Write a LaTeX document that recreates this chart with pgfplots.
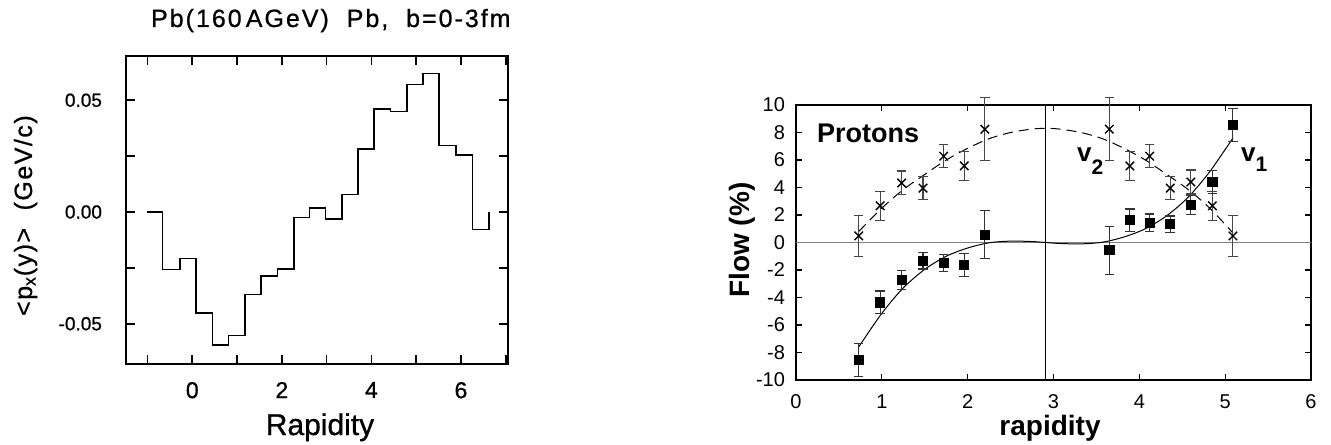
\documentclass[border=0pt]{standalone}
\usepackage{fontspec}
\setmainfont{Liberation Sans}
\newfontfamily\scanfont[FakeBold=0.8]{Liberation Sans}
\usepackage{pgfplots}
\pgfplotsset{compat=1.18}
\begin{document}
\begin{tikzpicture}
\path[use as bounding box] (0,0) rectangle (665.5pt,-222pt);
% ---------------- left panel ----------------
\begin{axis}[
  at={(63pt,-182pt)}, anchor=south west, scale only axis,
  width=191pt, height=154pt,
  xmin=-1.48, xmax=7.05, ymin=-0.0680, ymax=0.0698,
  axis line style={line width=1.1pt},
  xtick={0,2,4,6}, xticklabels={0,2,4,6},
  minor xtick={-1,1,3,5,7},
  ytick={-0.05,0,0.05}, yticklabels={-0.05,0.00,0.05},
  minor ytick={-0.025,0.025},
  scaled y ticks=false,
  tick align=inside, major tick length=4.5pt, minor tick length=4.5pt,
  every tick/.style={line width=0.8pt, black},
  xticklabel style={font=\scanfont\fontsize{11.5}{13}\selectfont, yshift=-5.5pt},
  yticklabel style={font=\scanfont\fontsize{9.5}{11}\selectfont, xshift=-8.5pt},
]
\addplot[const plot mark left, black, line width=0.75pt] coordinates {
(-1.00,0) (-0.66,-0.0257) (-0.27,-0.0209) (0.08,-0.0452) (0.45,-0.0595)
(0.81,-0.0553) (1.18,-0.0369) (1.54,-0.0287) (1.90,-0.0256) (2.27,-0.0025)
(2.62,0.0017) (2.98,-0.0032) (3.34,0.0078) (3.70,0.0282) (4.06,0.0462)
(4.43,0.0450) (4.79,0.0570) (5.15,0.0620) (5.51,0.0298) (5.89,0.0255)
(6.26,-0.0078) (6.63,0)};
\end{axis}
\node[anchor=base west, font=\scanfont\fontsize{12.5}{14}\selectfont\addfontfeatures{LetterSpace=8}] at (72pt,-13.5pt)
  {Pb(160\,AGeV)\ \ Pb,\ \ b=0-3fm};
\node[anchor=base, font=\scanfont\fontsize{15}{17}\selectfont] at (160pt,-217.5pt) {Rapidity};
\node[rotate=90, anchor=base, font=\scanfont\fontsize{12.5}{14}\selectfont\addfontfeatures{LetterSpace=6}]
  at (16pt,-107.8pt) {<p\textsubscript{x}(y)>\hspace{0.7em}(GeV/c)};
% ---------------- right panel ----------------
\begin{axis}[
  at={(398pt,-190pt)}, anchor=south west, scale only axis,
  width=257.5pt, height=137.5pt,
  xmin=0, xmax=6, ymin=-10, ymax=10,
  clip=false,
  axis line style={line width=0.7pt},
  xtick={0,1,2,3,4,5,6}, xticklabels={0,1,2,3,4,5,6},
  ytick={-10,-8,-6,-4,-2,0,2,4,6,8,10},
  yticklabels={-10,-8,-6,-4,-2,0,2,4,6,8,10},
  tick align=inside, major tick length=3pt,
  every tick/.style={line width=0.6pt, black},
  xticklabel style={font=\fontsize{10}{11}\selectfont, yshift=-3.8pt},
  yticklabel style={font=\fontsize{10}{11}\selectfont, xshift=-2pt},
]
\addplot[gray, line width=0.6pt] coordinates {(0,0) (6,0)};
\addplot[black, line width=0.6pt] coordinates {(2.91,-10) (2.91,10)};
% v2 fit (dashed)
\addplot[black, line width=0.5pt, dash pattern=on 5pt off 3pt, smooth] coordinates {
(0.73,0.80) (1.00,2.50) (1.25,3.85) (1.50,4.95) (1.75,6.00) (2.00,6.85)
(2.25,7.55) (2.50,8.00) (2.75,8.25) (2.91,8.30) (3.07,8.25) (3.32,8.00)
(3.57,7.55) (3.82,6.85) (4.07,6.00) (4.32,4.95) (4.57,3.85) (4.82,2.50) (5.09,0.70)};
% v1 fit (solid)
\addplot[black, line width=0.5pt, smooth] coordinates {
(0.73,-7.60) (1.00,-5.15) (1.25,-3.30) (1.50,-1.95) (1.75,-1.00) (2.00,-0.40)
(2.25,-0.02) (2.50,0.10) (2.75,0.07) (2.91,0) (3.07,-0.07) (3.32,-0.10)
(3.57,0.02) (3.82,0.40) (4.07,1.00) (4.32,1.95) (4.57,3.30) (4.82,5.15) (5.09,7.60)};
% v2 data (crosses)
\addplot[only marks, black, mark=x, mark size=3pt, mark options={line width=0.7pt},
  error bars/.cd, y dir=both, y explicit,
  error bar style={gray!55!black, line width=0.55pt},
  error mark options={rotate=90, mark size=2.4pt, gray!55!black, line width=0.55pt}]
  table[x=x, y=y, y error=e] {
x y e
0.73 0.48 1.48
0.98 2.67 1.06
1.23 4.33 0.87
1.48 3.95 0.82
1.72 6.28 0.85
1.96 5.57 1.03
2.20 8.24 2.28
3.65 8.24 2.28
3.89 5.57 1.03
4.12 6.28 0.85
4.36 3.95 0.82
4.60 4.40 0.87
4.85 2.67 1.06
5.09 0.48 1.48
};
% v1 data (squares)
\addplot[only marks, black, mark=square*, mark size=2.3pt,
  error bars/.cd, y dir=both, y explicit,
  error bar style={gray!40!black, line width=0.55pt},
  error mark options={rotate=90, mark size=2.4pt, gray!40!black, line width=0.55pt}]
  table[x=x, y=y, y error=e] {
x y e
0.73 -8.53 1.19
0.98 -4.36 0.83
1.23 -2.72 0.68
1.48 -1.33 0.60
1.72 -1.50 0.62
1.96 -1.62 0.82
2.20 0.56 1.75
3.65 -0.56 1.75
3.89 1.62 0.82
4.12 1.45 0.62
4.36 1.33 0.60
4.60 2.72 0.68
4.85 4.40 0.83
5.09 8.53 1.19
};
\end{axis}
\node[anchor=base west, font=\bfseries\fontsize{13.5}{15}\selectfont] at (405pt,-71pt) {Protons};
\node[anchor=base west, font=\bfseries\fontsize{13}{15}\selectfont] at (535pt,-80.8pt)
  {v\raisebox{-6.6pt}{\fontsize{10.5}{12}\selectfont 2}};
\node[anchor=base west, font=\bfseries\fontsize{13}{15}\selectfont] at (617pt,-80.8pt)
  {v\raisebox{-5pt}{\fontsize{10.5}{12}\selectfont 1}};
\node[anchor=base, font=\bfseries\fontsize{14}{16}\selectfont] at (525pt,-217.8pt) {rapidity};
\node[rotate=90, anchor=base, font=\bfseries\fontsize{14}{16}\selectfont] at (374.6pt,-120pt) {Flow (\%)};
\end{tikzpicture}
\end{document}
